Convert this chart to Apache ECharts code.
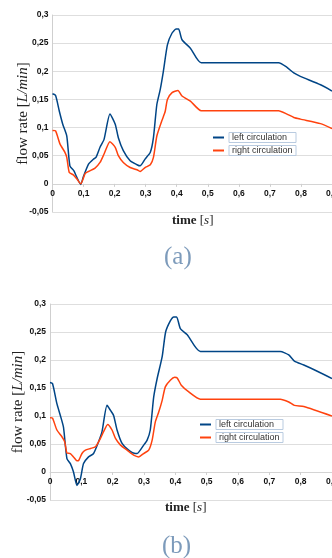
<!DOCTYPE html>
<html>
<head>
<meta charset="utf-8">
<script src="https://cdn.jsdelivr.net/npm/echarts@6/dist/echarts.min.js"></script>
<style>
html,body{margin:0;padding:0;background:#fff;}
#c{width:332px;height:558px;}
</style>
</head>
<body>
<div id="c"></div>
<script>
// ---- data (a) ----
const tLeftA = [0, 0.01, 0.022, 0.033, 0.046, 0.056, 0.069, 0.078, 0.091, 0.099, 0.116, 0.132, 0.14, 0.153, 0.166, 0.185, 0.202, 0.212, 0.228, 0.25, 0.272, 0.282, 0.298, 0.315, 0.325, 0.336, 0.347, 0.357, 0.37, 0.385, 0.398, 0.406, 0.417, 0.444, 0.479, 0.728, 0.755, 0.777, 0.798, 0.863, 0.9];
const vLeftA = [0.16, 0.157, 0.129, 0.106, 0.085, 0.032, 0.023, 0.012, -0.001, 0.012, 0.035, 0.044, 0.047, 0.065, 0.079, 0.124, 0.106, 0.082, 0.059, 0.041, 0.034, 0.032, 0.044, 0.056, 0.082, 0.141, 0.168, 0.2, 0.247, 0.268, 0.275, 0.275, 0.256, 0.241, 0.215, 0.215, 0.207, 0.197, 0.191, 0.176, 0.165];
const tRightA = [0, 0.01, 0.024, 0.04, 0.046, 0.054, 0.067, 0.078, 0.091, 0.105, 0.116, 0.137, 0.153, 0.166, 0.185, 0.202, 0.212, 0.228, 0.25, 0.272, 0.282, 0.298, 0.315, 0.325, 0.336, 0.352, 0.363, 0.37, 0.385, 0.404, 0.417, 0.444, 0.479, 0.728, 0.755, 0.777, 0.798, 0.863, 0.9];
const vRightA = [0.095, 0.094, 0.071, 0.056, 0.047, 0.02, 0.016, 0.009, 0.0, 0.018, 0.022, 0.028, 0.038, 0.053, 0.075, 0.065, 0.05, 0.038, 0.029, 0.025, 0.022, 0.029, 0.034, 0.047, 0.085, 0.112, 0.129, 0.15, 0.162, 0.166, 0.156, 0.147, 0.13, 0.13, 0.124, 0.118, 0.115, 0.107, 0.098];
// ---- data (b) ----
const tLeftB = [0, 0.008, 0.022, 0.033, 0.043, 0.054, 0.065, 0.075, 0.086, 0.097, 0.107, 0.123, 0.139, 0.155, 0.166, 0.182, 0.193, 0.203, 0.214, 0.23, 0.251, 0.273, 0.278, 0.299, 0.31, 0.32, 0.331, 0.342, 0.358, 0.369, 0.384, 0.395, 0.404, 0.416, 0.438, 0.48, 0.735, 0.762, 0.78, 0.81, 0.853, 0.9];
const vLeftB = [0.16, 0.158, 0.122, 0.101, 0.08, 0.024, 0.015, 0.0, -0.024, -0.012, 0.015, 0.027, 0.033, 0.054, 0.072, 0.119, 0.11, 0.101, 0.075, 0.051, 0.039, 0.033, 0.033, 0.048, 0.057, 0.075, 0.134, 0.167, 0.206, 0.25, 0.27, 0.277, 0.277, 0.256, 0.245, 0.215, 0.215, 0.209, 0.198, 0.191, 0.18, 0.167];
const tRightB = [0, 0.008, 0.022, 0.038, 0.047, 0.054, 0.065, 0.075, 0.086, 0.092, 0.102, 0.113, 0.129, 0.145, 0.161, 0.171, 0.184, 0.198, 0.209, 0.225, 0.246, 0.267, 0.283, 0.299, 0.315, 0.326, 0.336, 0.347, 0.358, 0.368, 0.384, 0.398, 0.406, 0.419, 0.443, 0.48, 0.735, 0.762, 0.78, 0.81, 0.9];
const vRightB = [0.097, 0.096, 0.075, 0.063, 0.054, 0.034, 0.033, 0.027, 0.02, 0.021, 0.033, 0.039, 0.042, 0.045, 0.06, 0.072, 0.085, 0.075, 0.06, 0.048, 0.039, 0.03, 0.027, 0.033, 0.039, 0.057, 0.089, 0.107, 0.128, 0.152, 0.164, 0.169, 0.168, 0.155, 0.143, 0.13, 0.13, 0.125, 0.119, 0.117, 0.1];

const seriesNames = ['left circulation', 'right circulation'];
const xTitle = 'time';
const yTitle = 'flow rate';
const captions = ['(a)', '(b)'];
const yMin = -0.05, yMax = 0.3;

const zip = (t, v) => t.map((x, i) => [x, v[i]]);
const fmt = v => String(Math.round(v * 100) / 100).replace('.', ',');

const BLUE = '#004586', ORANGE = '#ff420e';
const tickFont = {fontFamily: 'Liberation Sans', fontWeight: 'bold', fontSize: 8.5, color: '#111'};
const GRID_H = [197, 196];

function xAx(gi) {
  // place the axis on the zero line of the y scale
  const zeroOffset = -GRID_H[gi] * (0 - yMin) / (yMax - yMin);
  return {
    type: 'value', gridIndex: gi, min: 0, max: 0.9, interval: 0.1,
    position: 'bottom', offset: zeroOffset,
    axisLine: {show: true, onZero: false, lineStyle: {color: '#d4d4d4', width: 1}},
    axisTick: {show: true, length: 3, lineStyle: {color: '#cfcfcf'}},
    axisLabel: Object.assign({formatter: fmt, margin: 5, hideOverlap: false}, tickFont),
    splitLine: {show: false}
  };
}
function yAx(gi, gap) {
  return {
    type: 'value', gridIndex: gi, min: yMin, max: yMax, interval: 0.05,
    axisLine: {show: true, onZero: false, lineStyle: {color: '#cfcfcf'}},
    axisTick: {show: false},
    axisLabel: Object.assign({formatter: fmt, margin: 4}, tickFont),
    splitLine: {show: true, lineStyle: {color: '#dedede', width: 1}},
    name: '{r|' + yTitle + ' [}{i|L/min}{r|]}',
    nameLocation: 'middle', nameRotate: 90, nameGap: gap, nameMoveOverlap: false,
    nameTextStyle: {
      rich: {
        r: {fontFamily: 'Liberation Serif', fontSize: 15, color: '#222'},
        i: {fontFamily: 'Liberation Serif', fontStyle: 'italic', fontSize: 15, color: '#222'}
      }
    }
  };
}
function line(name, data, gi, color) {
  return {
    name: name, type: 'line', xAxisIndex: gi, yAxisIndex: gi, data: data,
    showSymbol: false, symbol: 'none', smooth: 0.2, color: color,
    lineStyle: {width: 1.5, color: color}, animation: false
  };
}
function legend(left, top) {
  return {
    orient: 'vertical', left: left, top: top, itemGap: 2,
    itemWidth: 11, itemHeight: 2, icon: 'rect',
    data: seriesNames,
    textStyle: {
      fontFamily: 'Liberation Sans', fontSize: 9, color: '#333',
      borderColor: '#b9cbe0', borderWidth: 1, padding: [1, 2, 0, 3],
      width: 62, lineHeight: 9
    }
  };
}
function title(x, y, sz) {
  const f = 'Liberation Serif';
  return {
    type: 'text', left: x, top: y,
    style: {
      text: '{b|' + xTitle + '}{r| [}{i|s}{r|]}',
      rich: {
        b: {fontFamily: f, fontWeight: 'bold', fontSize: sz, fill: '#222'},
        r: {fontFamily: f, fontSize: sz, fill: '#222'},
        i: {fontFamily: f, fontStyle: 'italic', fontSize: sz, fill: '#222'}
      }
    }
  };
}
function cap(text, x, y) {
  return {
    type: 'text', left: x, top: y,
    style: {text: text, fontFamily: 'Liberation Serif', fontSize: 25, fill: '#7d9bbb'}
  };
}

const chart = echarts.init(document.getElementById('c'), null, {renderer: 'canvas'});
chart.setOption({
  backgroundColor: '#fff',
  animation: false,
  grid: [
    {left: 52.5, right: 0, top: 15, height: GRID_H[0], outerBoundsMode: 'none', containLabel: false},
    {left: 50, right: 0, top: 304, height: GRID_H[1], outerBoundsMode: 'none', containLabel: false}
  ],
  xAxis: [xAx(0), xAx(1)],
  yAxis: [yAx(0, 22), yAx(1, 24)],
  legend: [legend(208, 127), legend(195, 414)],
  series: [
    line(seriesNames[0], zip(tLeftA, vLeftA), 0, BLUE),
    line(seriesNames[1], zip(tRightA, vRightA), 0, ORANGE),
    line(seriesNames[0], zip(tLeftB, vLeftB), 1, BLUE),
    line(seriesNames[1], zip(tRightB, vRightB), 1, ORANGE)
  ],
  graphic: [
    title(172, 214, 13),
    cap(captions[0], 164, 245),
    title(165, 501, 13),
    cap(captions[1], 162, 534)
  ]
});
</script>
</body>
</html>
